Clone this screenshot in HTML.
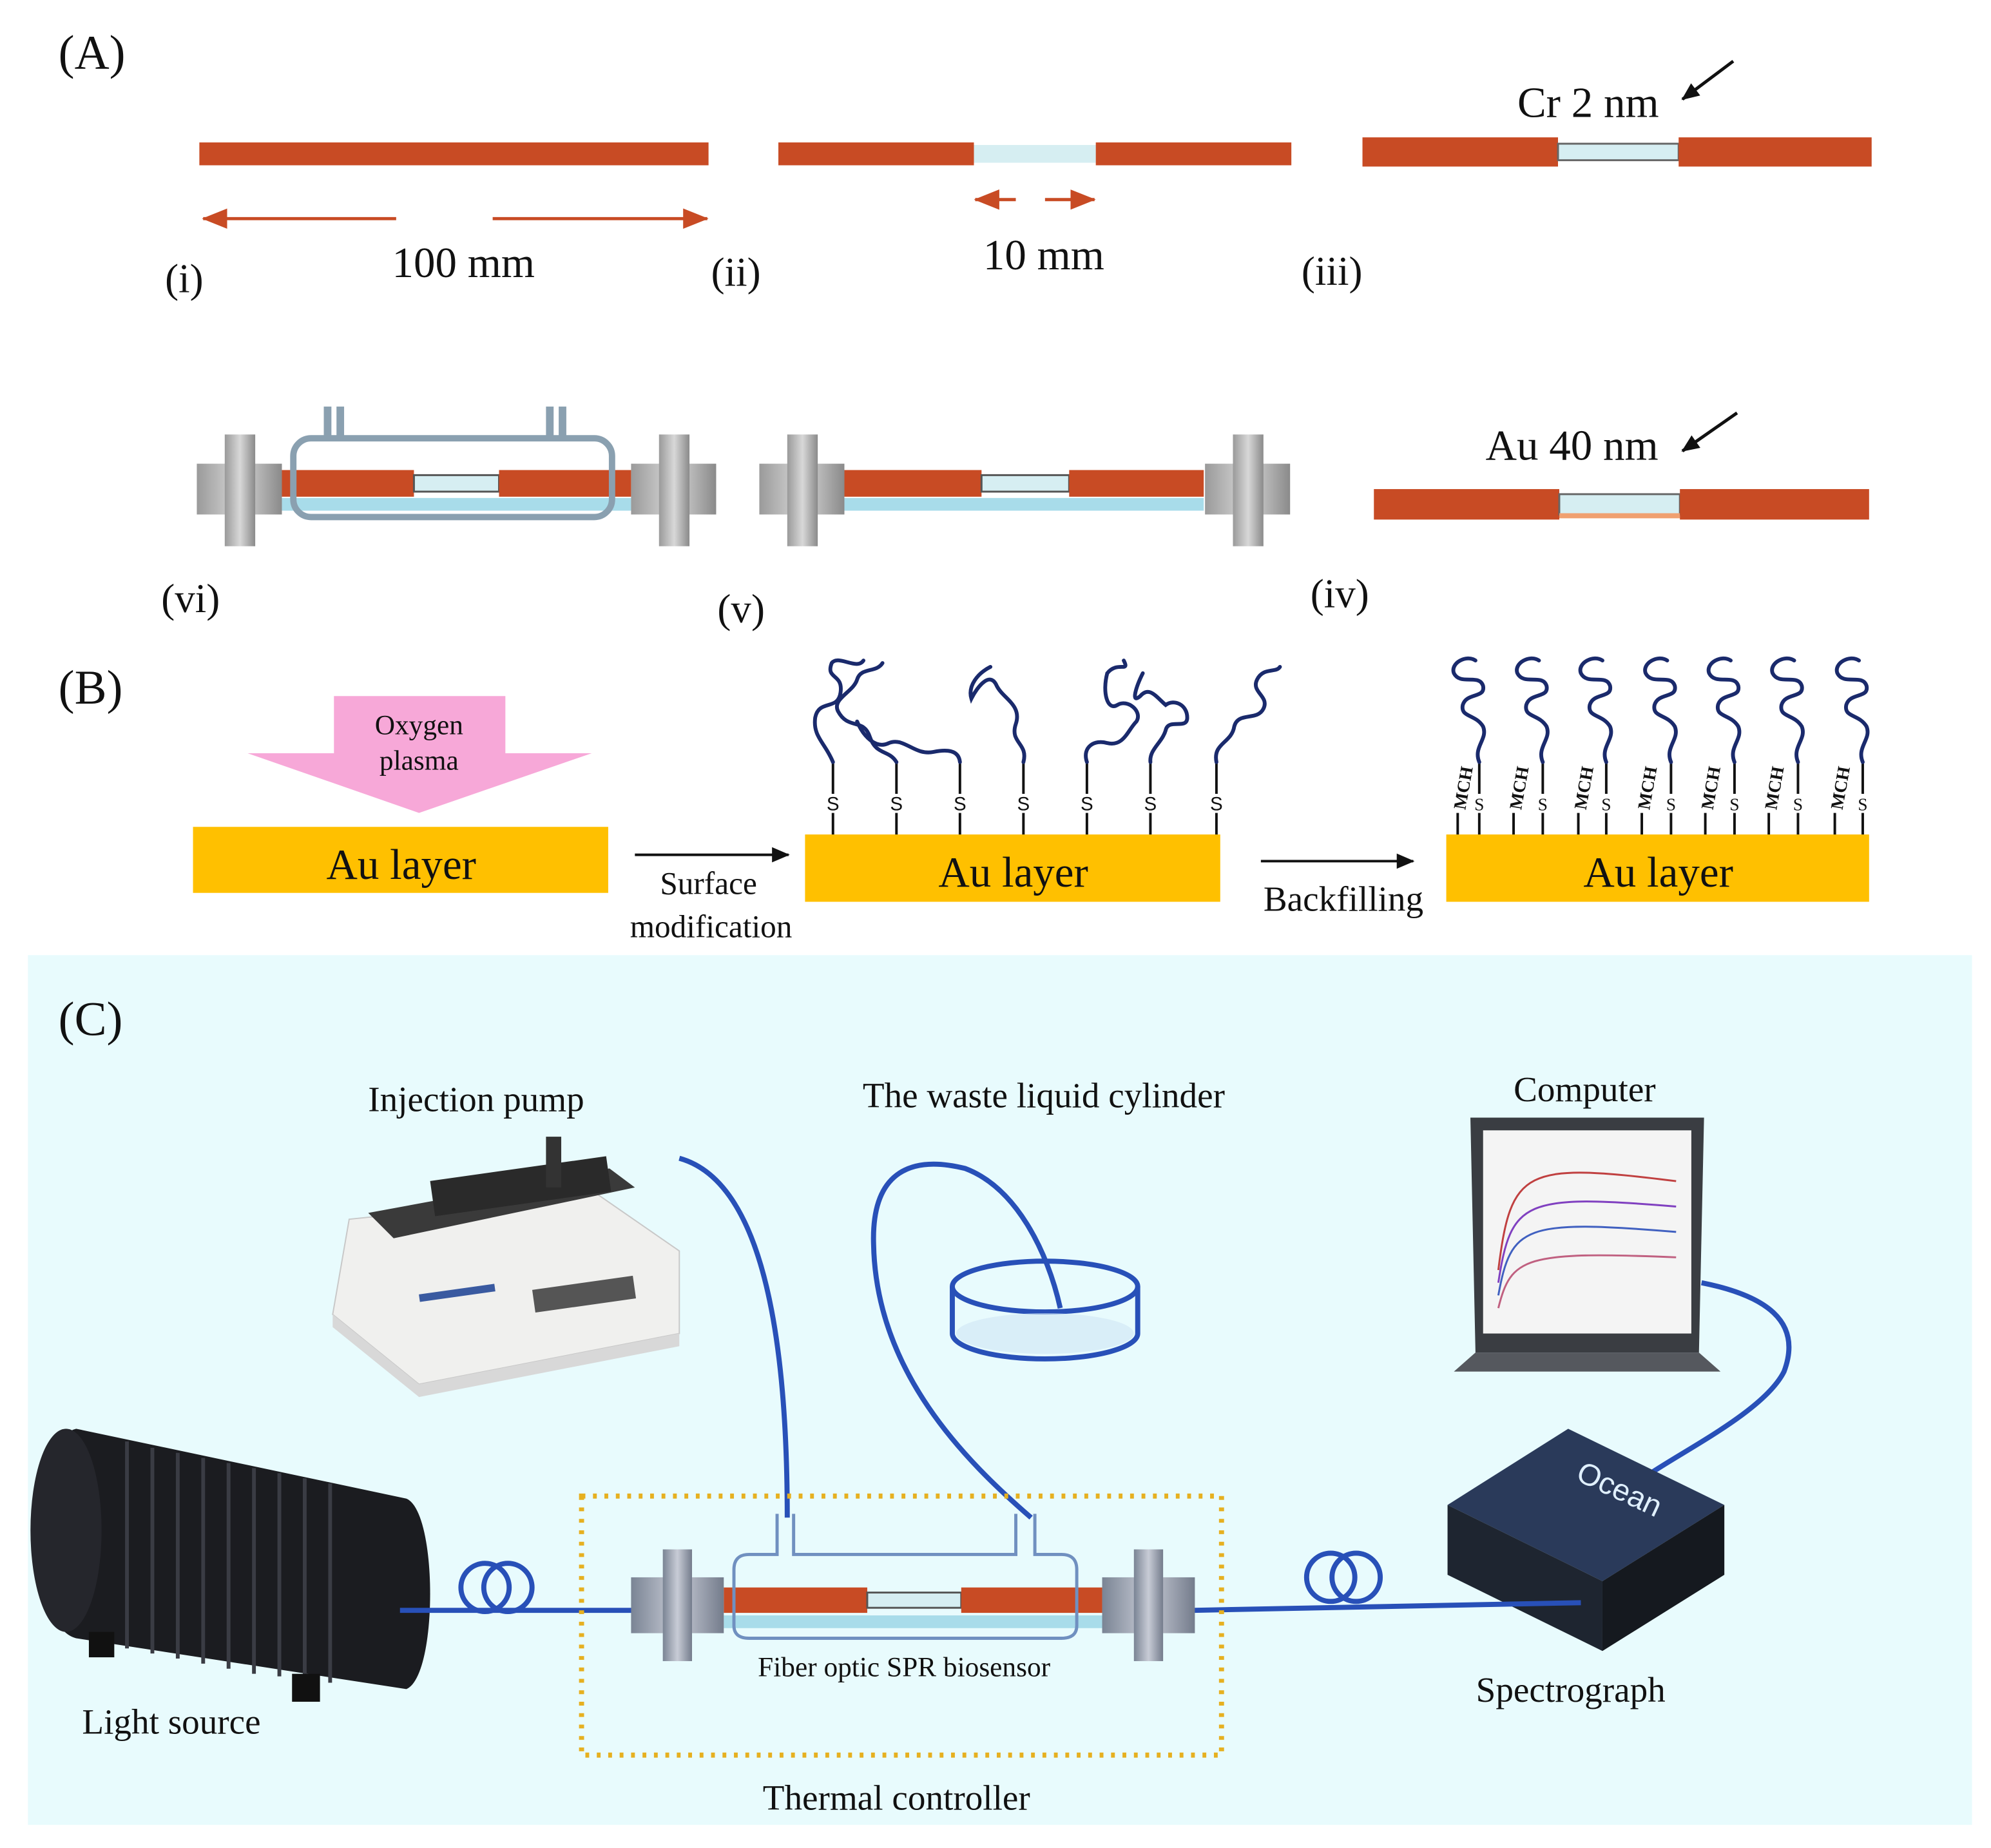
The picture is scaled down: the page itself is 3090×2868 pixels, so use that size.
<!DOCTYPE html>
<html><head><meta charset="utf-8"><style>
html,body{margin:0;padding:0;background:#fff}
svg{display:block}
text{font-family:"Liberation Serif",serif;fill:#111}
</style></head><body>
<svg width="3090" height="2868" viewBox="0 0 1568 1455" xmlns="http://www.w3.org/2000/svg">
<defs>
<marker id="ak" markerWidth="14" markerHeight="12" refX="13" refY="6" orient="auto" markerUnits="userSpaceOnUse"><path d="M0,0 L14,6 L0,12 z" fill="#111"/></marker>
<marker id="ao" markerWidth="20" markerHeight="16" refX="19" refY="8" orient="auto" markerUnits="userSpaceOnUse"><path d="M0,0 L20,8 L0,16 z" fill="#C84B24"/></marker>
<linearGradient id="gc" x1="0" x2="1"><stop offset="0" stop-color="#9a9a9a"/><stop offset="0.5" stop-color="#d8d8d8"/><stop offset="1" stop-color="#8a8a8a"/></linearGradient>
<linearGradient id="gc2" x1="0" x2="1"><stop offset="0" stop-color="#7a8494"/><stop offset="0.5" stop-color="#c8ccd6"/><stop offset="1" stop-color="#747c8c"/></linearGradient>
<g id="cross"><rect x="0" y="23" width="67" height="40" fill="url(#gc)"/><rect x="22" y="0" width="24" height="88" fill="url(#gc)"/></g>
<g id="crossC"><rect x="0" y="22" width="73" height="44" fill="url(#gc2)"/><rect x="25" y="0" width="23" height="88" fill="url(#gc2)"/></g>
</defs>
<rect width="1568" height="1455" fill="#fff"/>
<!-- (A) -->
<text x="46" y="54" font-size="38">(A)</text>
<rect x="157" y="112" width="401" height="18" fill="#C84B24"/>
<line x1="312" y1="172" x2="160" y2="172" stroke="#C84B24" stroke-width="2.5" marker-end="url(#ao)"/>
<line x1="388" y1="172" x2="557" y2="172" stroke="#C84B24" stroke-width="2.5" marker-end="url(#ao)"/>
<text x="365" y="218" font-size="34" text-anchor="middle">100 mm</text>
<text x="130" y="230" font-size="32">(i)</text>
<text x="560" y="225" font-size="32">(ii)</text>
<rect x="613" y="112" width="154" height="18" fill="#C84B24"/>
<rect x="767" y="114" width="96" height="14" fill="#D6EEF2"/>
<rect x="863" y="112" width="154" height="18" fill="#C84B24"/>
<line x1="800" y1="157" x2="768" y2="157" stroke="#C84B24" stroke-width="2.5" marker-end="url(#ao)"/>
<line x1="823" y1="157" x2="862" y2="157" stroke="#C84B24" stroke-width="2.5" marker-end="url(#ao)"/>
<text x="822" y="212" font-size="34" text-anchor="middle">10 mm</text>
<text x="1025" y="224" font-size="32">(iii)</text>
<rect x="1073" y="108" width="154" height="23" fill="#C84B24"/>
<rect x="1227" y="113" width="95" height="13" fill="#D6EEF2" stroke="#666" stroke-width="1.5"/>
<rect x="1322" y="108" width="152" height="23" fill="#C84B24"/>
<text x="1195" y="92" font-size="34">Cr 2 nm</text>
<line x1="1365" y1="48" x2="1325" y2="78" stroke="#111" stroke-width="2.5" marker-end="url(#ak)"/>
<!-- row 2 -->
<text x="127" y="482" font-size="32">(vi)</text>
<text x="565" y="490" font-size="32">(v)</text>
<text x="1032" y="478" font-size="32">(iv)</text>
<rect x="1082" y="385" width="146" height="24" fill="#C84B24"/>
<rect x="1228" y="389" width="95" height="16" fill="#D6EEF2" stroke="#666" stroke-width="1.5"/>
<rect x="1228" y="404" width="95" height="4" fill="#f0a070"/>
<rect x="1323" y="385" width="149" height="24" fill="#C84B24"/>
<text x="1170" y="362" font-size="34">Au 40 nm</text>
<line x1="1368" y1="325" x2="1325" y2="355" stroke="#111" stroke-width="2.5" marker-end="url(#ak)"/>
<!-- v -->
<rect x="665" y="392" width="283" height="10" fill="#A8DCEA"/>
<rect x="665" y="370" width="108" height="21" fill="#C84B24"/>
<rect x="773" y="374" width="69" height="13" fill="#D6EEF2" stroke="#555" stroke-width="1.5"/>
<rect x="842" y="370" width="106" height="21" fill="#C84B24"/>
<use href="#cross" x="598" y="342"/>
<use href="#cross" x="949" y="342"/>
<!-- vi -->
<rect x="222" y="392" width="275" height="10" fill="#A8DCEA"/>
<rect x="222" y="370" width="104" height="21" fill="#C84B24"/>
<rect x="326" y="374" width="67" height="13" fill="#D6EEF2" stroke="#555" stroke-width="1.5"/>
<rect x="393" y="370" width="104" height="21" fill="#C84B24"/>
<rect x="231" y="345" width="251" height="62" rx="14" fill="none" stroke="#8aa0b0" stroke-width="5"/>
<rect x="255" y="320" width="6" height="25" fill="#8aa0b0"/><rect x="265" y="320" width="6" height="25" fill="#8aa0b0"/>
<rect x="430" y="320" width="6" height="25" fill="#8aa0b0"/><rect x="440" y="320" width="6" height="25" fill="#8aa0b0"/>
<use href="#cross" x="155" y="342"/>
<use href="#cross" x="497" y="342"/>
<!-- (B) -->
<text x="46" y="554" font-size="38">(B)</text>
<path d="M263,548 H398 V593 H466 L330,640 L195,593 H263 Z" fill="#F7A8D8"/>
<text x="330" y="578" font-size="22" text-anchor="middle">Oxygen</text>
<text x="330" y="606" font-size="22" text-anchor="middle">plasma</text>
<rect x="152" y="651" width="327" height="52" fill="#FFC000"/>
<text x="316" y="692" font-size="34" text-anchor="middle">Au layer</text>
<line x1="500" y1="673" x2="621" y2="673" stroke="#111" stroke-width="2" marker-end="url(#ak)"/>
<text x="558" y="704" font-size="25" text-anchor="middle">Surface</text>
<text x="560" y="738" font-size="25" text-anchor="middle">modification</text>
<rect x="634" y="657" width="327" height="53" fill="#FFC000"/>
<text x="798" y="698" font-size="34" text-anchor="middle">Au layer</text>
<g stroke="#111" stroke-width="2">
<path d="M656,600v25M656,640v17M706,600v25M706,640v17M756,600v25M756,640v17M806,600v25M806,640v17M856,600v25M856,640v17M906,600v25M906,640v17M958,600v25M958,640v17"/>
</g>
<g font-size="15" text-anchor="middle"><text x="656" y="638" style="font-family:'Liberation Sans',sans-serif">S</text><text x="706" y="638" style="font-family:'Liberation Sans',sans-serif">S</text><text x="756" y="638" style="font-family:'Liberation Sans',sans-serif">S</text><text x="806" y="638" style="font-family:'Liberation Sans',sans-serif">S</text><text x="856" y="638" style="font-family:'Liberation Sans',sans-serif">S</text><text x="906" y="638" style="font-family:'Liberation Sans',sans-serif">S</text><text x="958" y="638" style="font-family:'Liberation Sans',sans-serif">S</text></g>
<g fill="none" stroke="#1a2a6c" stroke-width="3" stroke-linecap="round">
<path d="M656,600 C650,585 640,580 642,565 C645,550 660,560 662,545 C664,530 650,535 655,522 C660,515 675,528 680,520"/>
<path d="M706,600 C700,590 690,595 685,580 C680,565 668,575 660,560 C655,550 672,545 675,535 C678,525 690,530 695,522"/>
<path d="M756,600 C755,590 745,590 735,592 C720,595 712,580 700,585 C690,590 680,580 675,568"/>
<path d="M806,600 C810,585 795,585 800,570 C805,555 790,550 785,540 C780,528 770,540 765,550 C762,540 770,530 780,525"/>
<path d="M856,600 C852,588 862,582 872,585 C885,588 888,575 895,568 C900,560 888,550 880,555 C872,560 868,545 872,530 C880,520 890,530 885,520"/>
<path d="M906,600 C905,590 915,585 918,575 C920,565 935,575 935,565 C935,555 925,550 918,555 C910,548 905,540 898,548 C890,555 895,540 900,530"/>
<path d="M958,600 C955,585 970,585 972,572 C975,560 990,568 995,558 C1000,548 985,545 990,535 C995,525 1005,530 1008,525"/>
</g>
<line x1="993" y1="678" x2="1113" y2="678" stroke="#111" stroke-width="2" marker-end="url(#ak)"/>
<text x="1058" y="717" font-size="28" text-anchor="middle">Backfilling</text>
<rect x="1139" y="657" width="333" height="53" fill="#FFC000"/>
<text x="1306" y="698" font-size="34" text-anchor="middle">Au layer</text>
<g stroke="#111" stroke-width="2">
<path d="M1165,600v25M1165,640v17M1215,600v25M1215,640v17M1265,600v25M1265,640v17M1316,600v25M1316,640v17M1366,600v25M1366,640v17M1416,600v25M1416,640v17M1467,600v25M1467,640v17"/>
<path d="M1148,640v17M1192,640v17M1243,640v17M1293,640v17M1343,640v17M1393,640v17M1445,640v17"/>
</g>
<g font-size="14" text-anchor="middle" style="font-family:'Liberation Sans',sans-serif">
<text x="1165" y="638">S</text><text x="1215" y="638">S</text><text x="1265" y="638">S</text><text x="1316" y="638">S</text><text x="1366" y="638">S</text><text x="1416" y="638">S</text><text x="1467" y="638">S</text>
</g>
<g font-size="14" font-weight="bold" style="font-family:'Liberation Sans',sans-serif">
<text transform="translate(1154,638) rotate(-80)">MCH</text>
<text transform="translate(1198,638) rotate(-80)">MCH</text>
<text transform="translate(1249,638) rotate(-80)">MCH</text>
<text transform="translate(1299,638) rotate(-80)">MCH</text>
<text transform="translate(1349,638) rotate(-80)">MCH</text>
<text transform="translate(1399,638) rotate(-80)">MCH</text>
<text transform="translate(1451,638) rotate(-80)">MCH</text>
</g>
<g fill="none" stroke="#1a2a6c" stroke-width="3" stroke-linecap="round">
<path id="sq" d="M1165,600 C1160,588 1172,582 1168,572 C1162,562 1150,565 1152,555 C1155,545 1170,550 1168,540 C1165,530 1150,540 1145,530 C1142,522 1155,515 1162,520"/>
<use href="#sq" x="50"/><use href="#sq" x="100"/><use href="#sq" x="151"/><use href="#sq" x="201"/><use href="#sq" x="251"/><use href="#sq" x="302"/>
</g>
<!-- (C) -->
<rect x="22" y="752" width="1531" height="685" fill="#E8FBFD"/>
<text x="46" y="815" font-size="38">(C)</text>
<text x="375" y="875" font-size="28" text-anchor="middle">Injection pump</text>
<text x="822" y="872" font-size="28" text-anchor="middle">The waste liquid cylinder</text>
<text x="1248" y="867" font-size="28" text-anchor="middle">Computer</text>
<!-- pump -->
<path d="M275,960 L470,940 L535,985 L535,1050 L330,1090 L262,1035 Z" fill="#f0f0ee" stroke="#c8c8c8"/>
<path d="M262,1035 L330,1090 L535,1050 L535,1060 L330,1100 L262,1045 Z" fill="#d8d8d8"/>
<path d="M290,955 L480,920 L500,935 L310,975 Z" fill="#3a3a3a"/>
<rect x="340" y="920" width="140" height="28" fill="#2a2a2a" transform="rotate(-8 410 934)"/>
<rect x="430" y="895" width="12" height="40" fill="#333"/>
<rect x="420" y="1010" width="80" height="18" fill="#555" transform="rotate(-8 460 1019)"/>
<rect x="330" y="1015" width="60" height="6" fill="#3a5aa0" transform="rotate(-8 360 1018)"/>
<!-- tubes -->
<g fill="none" stroke="#2850b8" stroke-width="4">
<path d="M535,912 C600,930 620,1050 620,1195"/>
<path d="M812,1195 C760,1150 690,1080 688,980 C686,920 720,910 760,920 C800,935 825,985 835,1030"/>
<path d="M1340,1010 C1390,1020 1420,1040 1405,1080 C1390,1110 1330,1140 1300,1160"/>
</g>
<!-- cylinder -->
<g fill="none" stroke="#2850b8" stroke-width="4">
<ellipse cx="823" cy="1013" rx="73" ry="20"/>
<path d="M750,1013 V1050 A73,20 0 0 0 896,1050 V1013"/>
</g>
<ellipse cx="823" cy="1050" rx="70" ry="16" fill="#cfe6f5" opacity="0.6"/>
<!-- laptop -->
<path d="M1158,880 L1342,880 L1338,1065 L1162,1065 Z" fill="#3a3d42"/>
<rect x="1168" y="890" width="164" height="160" fill="#f4f4f4"/>
<g fill="none" stroke-width="1.5"><path d="M1180,1000 C1190,920 1200,915 1320,930" stroke="#c04040"/><path d="M1180,1010 C1190,945 1200,940 1320,950" stroke="#8040c0"/><path d="M1180,1020 C1190,965 1200,960 1320,970" stroke="#4060c0"/><path d="M1180,1030 C1190,990 1200,985 1320,990" stroke="#c06080"/></g>
<path d="M1162,1065 L1338,1065 L1355,1080 L1145,1080 Z" fill="#55585e"/>
<!-- spectrograph -->
<path d="M1140,1185 L1235,1125 L1358,1185 L1262,1245 Z" fill="#2a3a5a"/>
<path d="M1140,1185 L1262,1245 L1262,1300 L1140,1240 Z" fill="#1e2530"/>
<path d="M1262,1245 L1358,1185 L1358,1240 L1262,1300 Z" fill="#15191f"/>
<text x="1240" y="1165" font-size="24" style="fill:#e0f0ff;font-family:'Liberation Sans',sans-serif" transform="rotate(25 1240 1165)">Ocean</text>
<!-- light source -->
<path d="M60,1125 L320,1180 C345,1190 345,1320 320,1330 L60,1290 C20,1280 20,1135 60,1125 Z" fill="#1b1c20"/>
<g stroke="#3a3c44" stroke-width="3"><path d="M100,1135 V1298M120,1140 V1302M140,1144 V1306M160,1148 V1310M180,1152 V1314M200,1156 V1318M220,1160 V1320M240,1164 V1322M260,1168 V1325"/></g>
<ellipse cx="52" cy="1205" rx="28" ry="80" fill="#25262c"/>
<rect x="230" y="1318" width="22" height="22" fill="#111"/><rect x="70" y="1285" width="20" height="20" fill="#111"/>
<!-- fiber lines and coils -->
<g fill="none" stroke="#2850b8" stroke-width="4">
<path d="M315,1268 L500,1268"/><path d="M940,1268 L1245,1262"/>
<circle cx="382" cy="1250" r="19"/><circle cx="400" cy="1250" r="19"/>
<circle cx="1048" cy="1242" r="19"/><circle cx="1068" cy="1242" r="19"/>
</g>
<!-- thermal -->
<rect x="458" y="1178" width="504" height="204" fill="none" stroke="#E6B020" stroke-width="4" stroke-dasharray="3 6"/>
<rect x="570" y="1272" width="298" height="10" fill="#A8DCEA"/>
<rect x="570" y="1250" width="113" height="20" fill="#C84B24"/>
<rect x="683" y="1254" width="74" height="12" fill="#D6EEF2" stroke="#555" stroke-width="1.5"/>
<rect x="757" y="1250" width="111" height="20" fill="#C84B24"/>
<path d="M612,1192 V1224 H590 Q578,1224 578,1236 V1280 Q578,1290 590,1290 H836 Q848,1290 848,1280 V1236 Q848,1224 836,1224 H815 V1192 M800,1192 V1224 H625 V1192" fill="none" stroke="#7090c0" stroke-width="2.5"/>
<use href="#crossC" x="497" y="1220"/>
<use href="#crossC" x="868" y="1220"/>
<text x="712" y="1320" font-size="22" text-anchor="middle">Fiber optic SPR biosensor</text>
<text x="135" y="1365" font-size="28" text-anchor="middle">Light source</text>
<text x="1237" y="1340" font-size="28" text-anchor="middle">Spectrograph</text>
<text x="706" y="1425" font-size="28" text-anchor="middle">Thermal controller</text>
</svg>
</body></html>
